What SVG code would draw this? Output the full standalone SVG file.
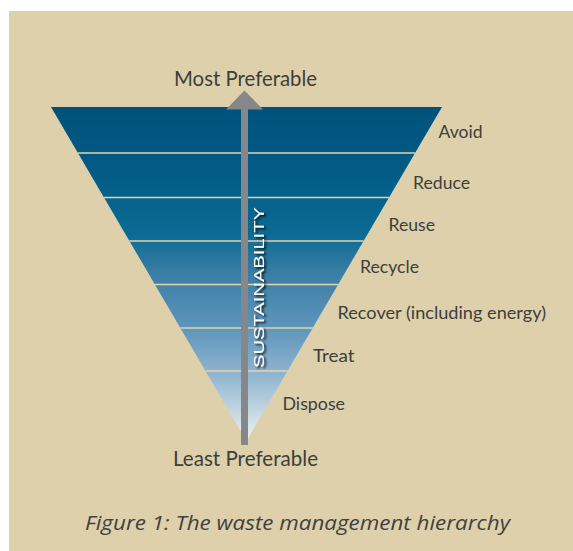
<svg xmlns="http://www.w3.org/2000/svg" width="573" height="551" viewBox="0 0 573 551">
  <style>
    .lbl { font-family: Lato, "Liberation Sans", sans-serif; font-size: 18px; fill: #3e3e3e; }
    .end { font-family: Lato, "Liberation Sans", sans-serif; font-size: 20.5px; fill: #3e3e3e; }
    .cap { font-family: "Open Sans", "Noto Sans", sans-serif; font-style: italic; font-size: 20px; fill: #414141; }
    .sep { stroke: #e4d4a8; stroke-width: 1.6; }
    .sus { font-family: "Liberation Sans", Arial, sans-serif; font-size: 15.5px; fill: #ffffff; }
  </style>
  <defs>
    <linearGradient id="tierFill" gradientUnits="userSpaceOnUse" x1="0" y1="107" x2="0" y2="441">
      <stop offset="0" stop-color="#00527c"/>
      <stop offset="0.2" stop-color="#035c86"/>
      <stop offset="0.38" stop-color="#0b6a93"/>
      <stop offset="0.5" stop-color="#3a7ea5"/>
      <stop offset="0.66" stop-color="#5e95bb"/>
      <stop offset="0.8" stop-color="#8fb4cf"/>
      <stop offset="1" stop-color="#eef3f2"/>
    </linearGradient>
    <filter id="textShadow" x="-50%" y="-10%" width="200%" height="120%">
      <feDropShadow dx="2" dy="1.5" stdDeviation="1.1" flood-color="#000000" flood-opacity="0.9"/>
    </filter>
  </defs>

  <!-- page panel -->
  <rect x="0" y="0" width="573" height="551" fill="#ffffff"/>
  <rect id="panel" x="9" y="11" width="564" height="540" fill="#ddd0ab"/>

  <!-- inverted pyramid of tiers -->
  <g id="pyramid">
    <polygon points="51,107 442,107 246.5,441" fill="url(#tierFill)"/>
    <line class="sep" x1="77.9" y1="153" x2="415.1" y2="153"/>
    <line class="sep" x1="104" y1="197.5" x2="389" y2="197.5"/>
    <line class="sep" x1="129.4" y1="241" x2="363.6" y2="241"/>
    <line class="sep" x1="154.9" y1="284.5" x2="338.1" y2="284.5"/>
    <line class="sep" x1="180.4" y1="328" x2="312.6" y2="328"/>
    <line class="sep" x1="205.5" y1="371" x2="287.5" y2="371"/>
  </g>

  <!-- sustainability arrow -->
  <g id="connectors">
    <rect x="241" y="108" width="7" height="337" fill="#86878b"/>
    <polygon points="226,109.5 244.5,90.5 263,109.5" fill="#86878b"/>
  </g>

  <g id="sustainability" filter="url(#textShadow)">
    <text class="sus" transform="translate(263.5,287.5) rotate(-90)" x="0" y="0" text-anchor="middle" textLength="161" lengthAdjust="spacingAndGlyphs">SUSTAINABILITY</text>
  </g>

  <!-- end labels -->
  <g id="most-preferable">
    <text class="end" x="174" y="86" textLength="143" lengthAdjust="spacingAndGlyphs">Most Preferable</text>
  </g>
  <g id="least-preferable">
    <text class="end" x="173" y="465.5" textLength="145" lengthAdjust="spacingAndGlyphs">Least Preferable</text>
  </g>

  <!-- tier labels -->
  <g id="tier-avoid"><text class="lbl" x="438.5" y="138" textLength="44" lengthAdjust="spacingAndGlyphs">Avoid</text></g>
  <g id="tier-reduce"><text class="lbl" x="413" y="189" textLength="57" lengthAdjust="spacingAndGlyphs">Reduce</text></g>
  <g id="tier-reuse"><text class="lbl" x="388.5" y="231" textLength="46.5" lengthAdjust="spacingAndGlyphs">Reuse</text></g>
  <g id="tier-recycle"><text class="lbl" x="360" y="273" textLength="59" lengthAdjust="spacingAndGlyphs">Recycle</text></g>
  <g id="tier-recover"><text class="lbl" x="337.5" y="319" textLength="208.5" lengthAdjust="spacingAndGlyphs">Recover (including energy)</text></g>
  <g id="tier-treat"><text class="lbl" x="313" y="361.5" textLength="41.5" lengthAdjust="spacingAndGlyphs">Treat</text></g>
  <g id="tier-dispose"><text class="lbl" x="282.5" y="410" textLength="62.5" lengthAdjust="spacingAndGlyphs">Dispose</text></g>

  <!-- caption -->
  <g id="caption">
    <text class="cap" x="85" y="530" textLength="425" lengthAdjust="spacingAndGlyphs">Figure 1: The waste management hierarchy</text>
  </g>
</svg>
